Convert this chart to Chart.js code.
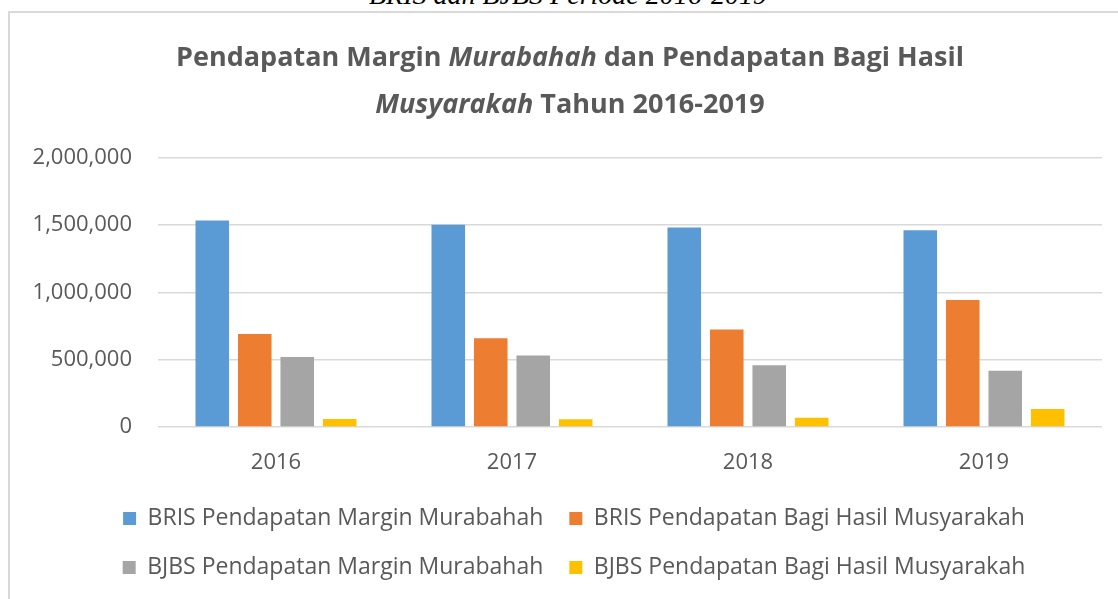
<!DOCTYPE html>
<html lang="id">
<head>
<meta charset="UTF-8">
<title>Pendapatan Margin Murabahah dan Pendapatan Bagi Hasil Musyarakah</title>
<script src="https://cdn.jsdelivr.net/npm/chart.js"></script>
<style>
    body { margin: 0; background: #fff; overflow: hidden; }
    #caption {
        position: absolute; left: 0; top: -19px; width: 1136px;
        text-align: center; font: italic 28px "Liberation Serif"; line-height: 28px; color: #000;
    }
    #box {
        position: absolute; left: 8px; top: 11px; width: 1140px; height: 600px;
        border: 2px solid #d9d9d9;
    }
    #box canvas { position: absolute; left: 0; top: 0; }
</style>
</head>
<body>

<div id="caption">BRIS dan BJBS Periode 2016-2019</div>
<div id="box">
    <canvas id="barChart" width="1110" height="586"></canvas>
</div>

<script>
    // Data (ribuan rupiah)
    const years = ['2016', '2017', '2018', '2019'];
    const brisMurabahah = [1533000, 1501000, 1481000, 1461000];
    const brisMusyarakah = [690000, 658000, 723000, 943000];
    const bjbsMurabahah = [520000, 530000, 458000, 418000];
    const bjbsMusyarakah = [60000, 58000, 68000, 133000];

    const seriesNames = [
        'BRIS Pendapatan Margin Murabahah',
        'BRIS Pendapatan Bagi Hasil Musyarakah',
        'BJBS Pendapatan Margin Murabahah',
        'BJBS Pendapatan Bagi Hasil Musyarakah'
    ];
    const seriesColors = ['#5b9bd5', '#ed7d31', '#a5a5a5', '#ffc000'];

    const textColor = '#595959';
    Chart.defaults.font.family = "'Open Sans', sans-serif";

    // Judul dengan kata miring (Murabahah, Musyarakah)
    const titleLines = [
        [['Pendapatan Margin ', false], ['Murabahah', true], [' dan Pendapatan Bagi Hasil', false]],
        [['Musyarakah', true], [' Tahun 2016-2019', false]]
    ];

    const mixedTitle = {
        id: 'mixedTitle',
        afterDraw(chart) {
            const ctx = chart.ctx;
            const cx = 560;
            const baselines = [53, 100];
            ctx.save();
            ctx.fillStyle = textColor;
            ctx.textBaseline = 'alphabetic';
            ctx.textAlign = 'left';
            titleLines.forEach((parts, i) => {
                let total = 0;
                parts.forEach(([txt, it]) => {
                    ctx.font = (it ? 'italic ' : '') + "bold 27px 'Open Sans'";
                    total += ctx.measureText(txt).width;
                });
                let x = cx - total / 2;
                parts.forEach(([txt, it]) => {
                    ctx.font = (it ? 'italic ' : '') + "bold 27px 'Open Sans'";
                    ctx.fillText(txt, x, baselines[i]);
                    x += ctx.measureText(txt).width;
                });
            });
            ctx.restore();
        }
    };

    // geser legenda sedikit ke kanan seperti aslinya
    const legendShift = {
        id: 'legendShift',
        afterLayout(chart) {
            chart.legend.left += 18;
            chart.legend.right += 18;
        }
    };

    const values = [brisMurabahah, brisMusyarakah, bjbsMurabahah, bjbsMusyarakah];

    new Chart(document.getElementById('barChart'), {
        type: 'bar',
        data: {
            labels: years,
            datasets: values.map((v, i) => ({
                label: seriesNames[i],
                data: v,
                backgroundColor: seriesColors[i],
                borderWidth: 0,
                categoryPercentage: 0.72,
                barPercentage: 0.79
            }))
        },
        options: {
            responsive: false,
            animation: false,
            layout: {
                padding: { top: 144.5, left: 0, right: 18, bottom: 10 }
            },
            plugins: {
                title: { display: false },
                tooltip: { enabled: false },
                legend: {
                    position: 'bottom',
                    labels: {
                        boxWidth: 13,
                        boxHeight: 13,
                        padding: 26,
                        color: textColor,
                        font: { size: 23 }
                    }
                }
            },
            scales: {
                x: {
                    grid: { display: false, drawTicks: false },
                    border: { display: false },
                    ticks: { color: textColor, font: { size: 22 }, padding: 23 },
                    afterFit(scale) { scale.height = 54; }
                },
                y: {
                    min: 0,
                    max: 2000000,
                    ticks: {
                        stepSize: 500000,
                        color: textColor,
                        font: { size: 22 },
                        padding: 26,
                        callback: v => v.toLocaleString('en-US')
                    },
                    grid: { color: '#d9d9d9', lineWidth: 1.5, drawTicks: false },
                    border: { display: false },
                    afterFit(scale) { scale.width = 148; }
                }
            }
        },
        plugins: [mixedTitle, legendShift]
    });
</script>

</body>
</html>
